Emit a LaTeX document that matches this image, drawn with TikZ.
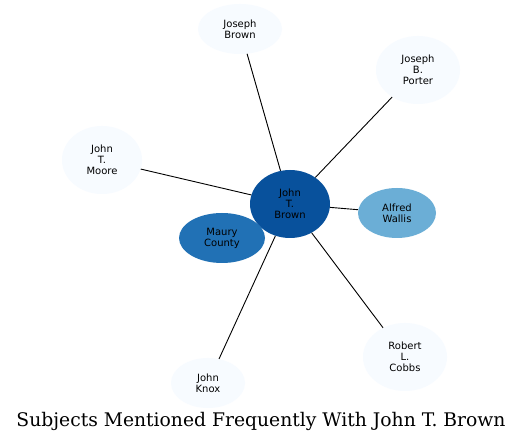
\documentclass[tikz,border=0pt]{standalone}
\usepackage{fontspec}
\setmainfont{DejaVu Sans}
\newfontfamily\titlefont{DejaVu Serif}
\usetikzlibrary{shapes.geometric}
\definecolor{cDark}{HTML}{08519C}
\definecolor{cMid}{HTML}{2171B5}
\definecolor{cLight}{HTML}{6BAED6}
\definecolor{cPale}{HTML}{F7FBFF}
\tikzset{
  ent/.style={ellipse, inner sep=0pt, align=center, font=\fontsize{10}{11}\selectfont, text=black},
  link/.style={draw=black, line width=0.9pt}
}
\begin{document}
\begin{tikzpicture}[x=1pt,y=-1pt]
\useasboundingbox[fill=white] (0,0) rectangle (523,443);
\node[ent, fill=cDark, minimum width=80pt, minimum height=68pt] (jtb) at (290,204) {John\\T.\\Brown};
\node[ent, fill=cMid, minimum width=86pt, minimum height=50pt] (mc) at (222,238) {Maury\\County};
\node[ent, fill=cLight, minimum width=78pt, minimum height=50pt] (aw) at (397,213) {Alfred\\Wallis};
\node[ent, fill=cPale, minimum width=84pt, minimum height=50pt] (jb) at (240,29) {Joseph\\Brown};
\node[ent, fill=cPale, minimum width=84pt, minimum height=68pt] (jbp) at (418,70) {Joseph\\B.\\Porter};
\node[ent, fill=cPale, minimum width=80pt, minimum height=68pt] (jtm) at (102,160) {John\\T.\\Moore};
\node[ent, fill=cPale, minimum width=74pt, minimum height=50pt] (jk) at (208,383) {John\\Knox};
\node[ent, fill=cPale, minimum width=84pt, minimum height=68pt] (rlc) at (405,357) {Robert\\L.\\Cobbs};
\draw[link] (jtb) -- (jb);
\draw[link] (jtb) -- (jbp);
\draw[link] (jtb) -- (jtm);
\draw[link] (jtb) -- (aw);
\draw[link] (jtb) -- (jk);
\draw[link] (jtb) -- (rlc);
\node[anchor=base, inner sep=0pt] (title) at (261,427) {\resizebox{489pt}{!}{\titlefont Subjects Mentioned Frequently With John T. Brown}};
\end{tikzpicture}
\end{document}
